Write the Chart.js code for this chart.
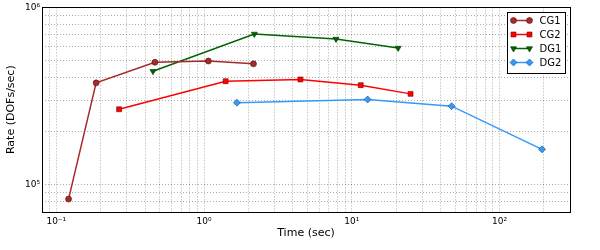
<!DOCTYPE html>
<html>
<head>
<meta charset="utf-8">
<script src="https://cdn.jsdelivr.net/npm/chart.js@4/dist/chart.umd.min.js"></script>
<style>
  html, body { margin: 0; padding: 0; background: #fff; }
  #wrap { width: 600px; height: 250px; }
</style>
</head>
<body>
<div id="wrap"><canvas id="c"></canvas></div>
<script>
// values (log-log)
const cg1Time = [0.121, 0.186, 0.465, 1.07, 2.16];
const cg1Rate = [82800, 375000, 490000, 498000, 480000];
const cg2Time = [0.266, 1.40, 4.49, 11.5, 25.0];
const cg2Rate = [266000, 383000, 392000, 364000, 325000];
const dg1Time = [0.451, 2.19, 7.82, 20.6];
const dg1Rate = [436000, 708000, 663000, 590000];
const dg2Time = [1.67, 12.8, 47.4, 194];
const dg2Rate = [290000, 302000, 277000, 158000];

const xLimits = [0.08, 300];
const yLimits = [7e4, 1e6];
const xTickLabels = { '0.1': '10\u207B\u00B9', '1': '10\u2070', '10': '10\u00B9', '100': '10\u00B2' };
const yTickLabels = { '100000': '10\u2075', '1000000': '10\u2076' };

const FONT = 'DejaVu Sans';

const pts = (xs, ys) => xs.map((x, i) => ({ x, y: ys[i] }));

// 1..9 per decade between the limits, like the minor grid in the original
function logTicks(min, max) {
  const out = [];
  let e = Math.floor(Math.log10(min));
  while (Math.pow(10, e) <= max) {
    for (let m = 1; m < 10; m++) {
      const v = +(m * Math.pow(10, e)).toPrecision(6);
      if (v >= min * 0.999 && v <= max * 1.001) out.push(v);
    }
    e++;
  }
  return out;
}

const frameAndLegend = {
  id: 'frameAndLegend',
  afterDraw(chart) {
    const { ctx, chartArea: a } = chart;
    ctx.save();
    ctx.strokeStyle = '#000';
    ctx.lineWidth = 1;
    ctx.strokeRect(Math.round(a.left) + 0.5, Math.round(a.top) + 0.5,
      Math.round(a.right - a.left), Math.round(a.bottom - a.top));

    // legend box, upper right
    const w = 58, h = 61;
    const x0 = Math.round(a.right - 63) + 0.5, y0 = Math.round(a.top + 5) + 0.5;
    ctx.fillStyle = '#fff';
    ctx.fillRect(x0, y0, w, h);
    ctx.strokeRect(x0, y0, w, h);
    ctx.font = '10px "' + FONT + '"';
    ctx.textBaseline = 'middle';
    chart.data.datasets.forEach((ds, i) => {
      const y = y0 + 8 + i * 14;
      ctx.strokeStyle = ds.borderColor;
      ctx.lineWidth = ds.borderWidth;
      ctx.beginPath();
      ctx.moveTo(x0 + 6, y);
      ctx.lineTo(x0 + 22, y);
      ctx.stroke();
      [x0 + 6, x0 + 22].forEach(px => {
        ctx.fillStyle = ds.pointBackgroundColor;
        ctx.strokeStyle = ds.pointBorderColor;
        ctx.lineWidth = 0.6;
        Chart.helpers.drawPoint(ctx, {
          pointStyle: ds.pointStyle, radius: ds.pointRadius,
          rotation: ds.pointRotation || 0, borderWidth: 0.6,
        }, px, y);
      });
      ctx.fillStyle = '#000';
      ctx.fillText(ds.label, x0 + 32, y + 1);
    });
    ctx.restore();
  },
};

const gridStyle = { color: 'rgba(0,0,0,0.33)', lineWidth: 1, drawTicks: false };

new Chart(document.getElementById('c'), {
  type: 'line',
  data: {
    datasets: [
      { label: 'CG1', data: pts(cg1Time, cg1Rate), borderColor: '#a52a2a', backgroundColor: '#a52a2a',
        pointBackgroundColor: '#a52a2a', pointBorderColor: '#5a1010', pointStyle: 'circle', pointRadius: 3 },
      { label: 'CG2', data: pts(cg2Time, cg2Rate), borderColor: '#ff0000', backgroundColor: '#ff0000',
        pointBackgroundColor: '#ff0000', pointBorderColor: '#800000', pointStyle: 'rect', pointRadius: 3.5 },
      { label: 'DG1', data: pts(dg1Time, dg1Rate), borderColor: '#006400', backgroundColor: '#006400',
        pointBackgroundColor: '#006400', pointBorderColor: '#003000', pointStyle: 'triangle', pointRotation: 180, pointRadius: 3.5 },
      { label: 'DG2', data: pts(dg2Time, dg2Rate), borderColor: '#3399ff', backgroundColor: '#3399ff',
        pointBackgroundColor: '#3399ff', pointBorderColor: '#1a4d80', pointStyle: 'rectRot', pointRadius: 3.5 },
    ].map(d => Object.assign({ borderWidth: 1.5, pointBorderWidth: 0.6, tension: 0, fill: false }, d)),
  },
  options: {
    responsive: true,
    maintainAspectRatio: false,
    animation: false,
    layout: { padding: { top: 7, right: 30, left: 0, bottom: 10 } },
    plugins: { legend: { display: false }, tooltip: { enabled: false } },
    scales: {
      x: {
        type: 'logarithmic',
        min: xLimits[0],
        max: xLimits[1],
        afterBuildTicks: s => { s.ticks = logTicks(xLimits[0], xLimits[1]).map(v => ({ value: v })); },
        afterFit: s => { s.height = 28; },
        grid: gridStyle,
        border: { display: false, dash: [1, 2] },
        ticks: {
          autoSkip: false, maxRotation: 0, padding: 4, color: '#000',
          font: { family: FONT, size: 9 },
          callback: v => xTickLabels[String(v)] || '',
        },
        title: { display: true, text: 'Time (sec)', color: '#000', font: { family: FONT, size: 11 }, padding: { top: 2, bottom: 0 } },
      },
      y: {
        type: 'logarithmic',
        min: yLimits[0],
        max: yLimits[1],
        afterBuildTicks: s => { s.ticks = logTicks(yLimits[0], yLimits[1]).map(v => ({ value: v })); },
        afterFit: s => { s.width = 42; },
        grid: gridStyle,
        border: { display: false, dash: [1, 2] },
        ticks: {
          autoSkip: false, padding: 2, color: '#000',
          font: { family: FONT, size: 9 },
          callback: v => yTickLabels[String(v)] || '',
        },
        title: { display: true, text: 'Rate (DOFs/sec)', color: '#000', font: { family: FONT, size: 11 }, padding: { top: 5, bottom: 0 } },
      },
    },
  },
  plugins: [frameAndLegend],
});
</script>
</body>
</html>
